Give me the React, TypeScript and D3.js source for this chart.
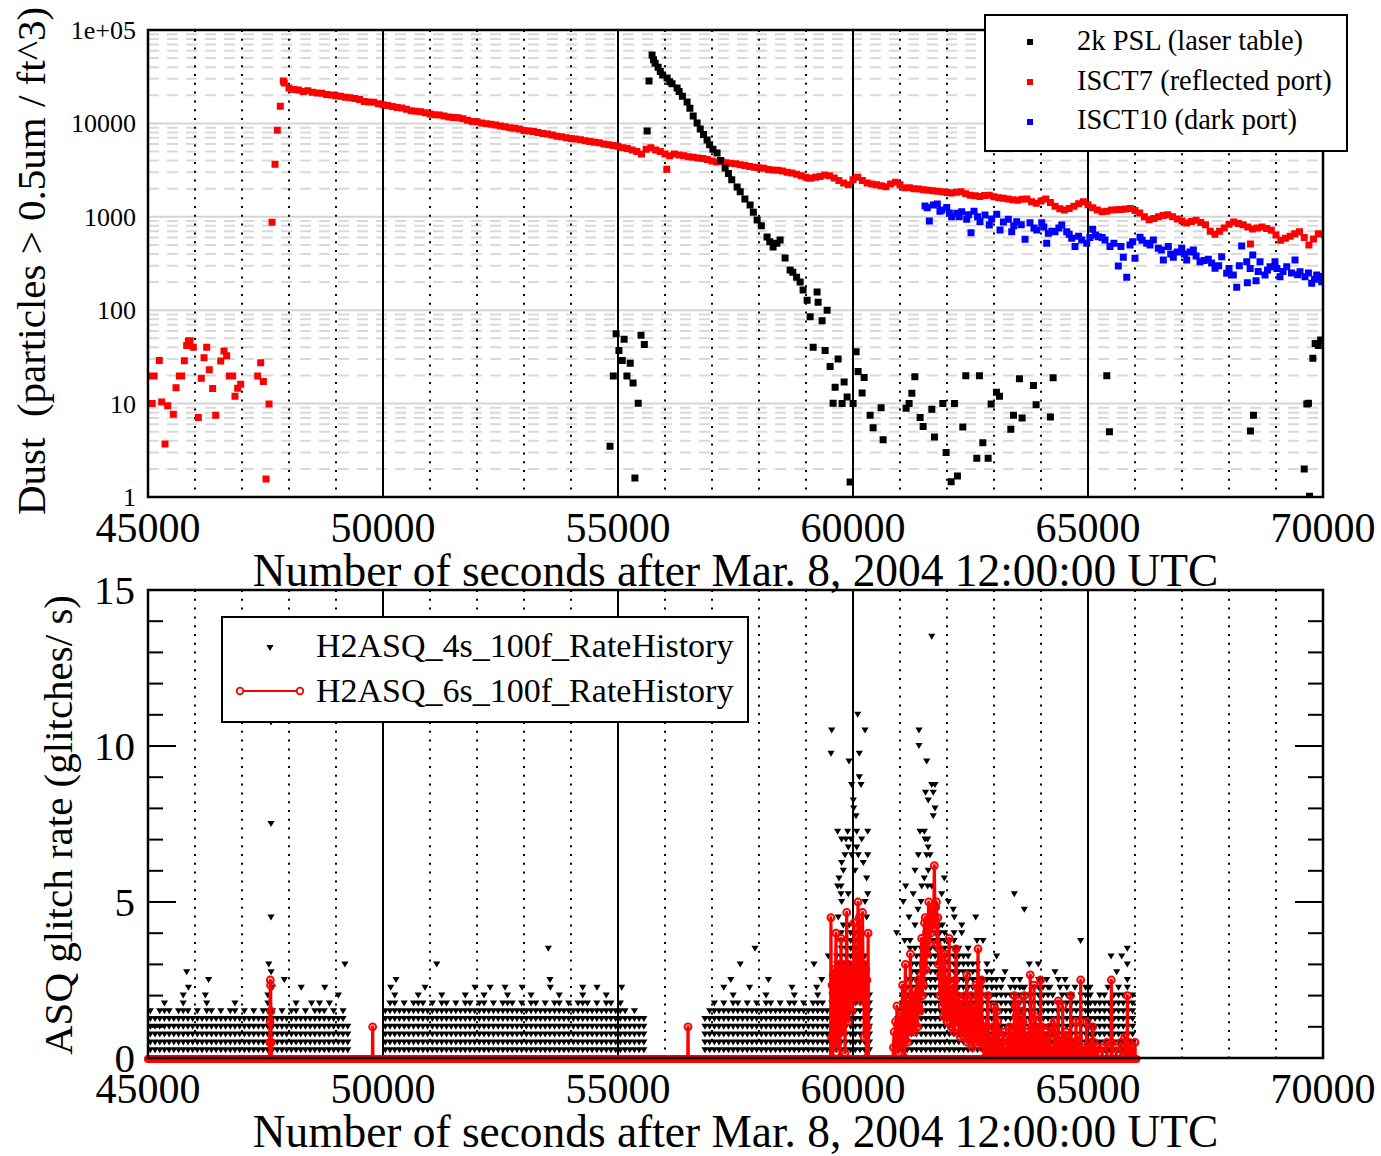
import React from "react";
import * as d3 from "d3";

// ---------------- data ----------------
const X_TICKS = [45000, 50000, 55000, 60000, 65000, 70000];
const X_TITLE = "Number of seconds after Mar. 8, 2004 12:00:00 UTC";
const TOP_Y_TICKS = [1, 10, 100, 1000, 10000, 100000];
const TOP_Y_LABELS = ["1", "10", "100", "1000", "10000", "1e+05"];
const TOP_Y_TITLE = "Dust  (particles > 0.5um / ft^3)";
const BOT_Y_TICKS = [0, 5, 10, 15];
const BOT_Y_TITLE = "ASQ glitch rate (glitches/ s)";
const TOP_LEGEND = ["2k PSL (laser table)", "ISCT7 (reflected port)", "ISCT10 (dark port)"];
const BOT_LEGEND = ["H2ASQ_4s_100f_RateHistory", "H2ASQ_6s_100f_RateHistory"];

// 2k PSL (laser table): [seconds, particles/ft^3]
const PSL: [number, number][] = [
  [54830, 3.5], [54900, 19.7], [54960, 56], [55020, 37], [55090, 29], [55130, 49], [55190, 19.7],
  [55260, 27], [55320, 16.6], [55360, 1.6], [55430, 10.1], [55490, 54], [55560, 43], [55620, 8300],
  [55660, 28400], [55725, 54000], [55755, 48000], [55790, 44000], [55853, 40000], [55900, 36000],
  [55950, 33000], [56045, 30600], [56100, 28000], [56150, 26500], [56257, 24000], [56300, 22000],
  [56370, 19500], [56470, 17000], [56530, 14500], [56600, 12000], [56683, 10100], [56750, 8700],
  [56820, 7600], [56896, 6640], [56950, 5900], [57020, 5300], [57108, 4820], [57180, 4000],
  [57279, 3330], [57350, 2900], [57420, 2500], [57534, 2080], [57600, 1850], [57700, 1550],
  [57811, 1340], [57880, 1120], [57960, 925], [58050, 800], [58172, 608], [58230, 540], [58300, 475],
  [58380, 520], [58449, 565], [58555, 362], [58662, 269], [58720, 255], [58800, 225], [58875, 200],
  [58938, 165], [59024, 128], [59088, 85], [59152, 40], [59236, 157], [59258, 122], [59343, 77],
  [59407, 37], [59450, 100], [59513, 25], [59577, 10.1], [59620, 15], [59683, 30], [59768, 10],
  [59811, 17], [59875, 11.8], [59939, 1.45], [60002, 10], [60066, 36], [60109, 22], [60194, 13],
  [60237, 19], [60364, 7.5], [60428, 5.5], [60598, 9], [60641, 4.1],
  [61130, 8.9], [61194, 10], [61252, 12.9], [61316, 19.4], [61428, 7.1], [61492, 5.7], [61677, 8.7],
  [61733, 4.4], [61911, 10], [61981, 3.0], [62088, 1.46], [62159, 10], [62222, 1.68], [62336, 5.6],
  [62400, 19.9], [62634, 2.6], [62690, 19.9], [62762, 3.8], [62875, 2.6], [62939, 9.9], [63052, 13.2],
  [63116, 12], [63358, 5.3], [63414, 7.5], [63541, 18.5], [63598, 7], [63839, 15.6], [63896, 9.7],
  [64200, 7.2], [64258, 18.9], [65400, 19.9], [65456, 5.0], [68456, 5.1], [68520, 7.5], [69600, 2.0],
  [69656, 9.9], [69690, 10.1], [69713, 1.02], [69784, 30.5], [69833, 44], [69900, 42], [69950, 48],
];

// ISCT7 (reflected port): early scattered samples [seconds, particles]
const ISCT7_SCATTER: [number, number][] = [
  [45050, 19.7], [45090, 10], [45130, 19.7], [45241, 29], [45291, 10.4], [45362, 3.7], [45419, 9.5],
  [45539, 7.7], [45596, 14.8], [45667, 19.7], [45717, 19.7], [45773, 28.8], [45823, 42], [45860, 47],
  [45894, 47], [45964, 40], [46071, 7.1], [46134, 18.7], [46192, 31], [46249, 40], [46304, 23],
  [46376, 14.5], [46441, 7.5], [46547, 28.6], [46617, 36.6], [46674, 32.6], [46730, 19.7],
  [46802, 19.7], [46851, 12], [46908, 14.6], [46972, 16.1], [47334, 19.7], [47398, 27.4],
  [47454, 17.2], [47511, 1.56], [47575, 9.9], [47639, 873], [47703, 3650], [47751, 8440],
  [47815, 15300], [47879, 28400], [56038, 3230], [68456, 510],
];
// ISCT7 regular samples after the door opening (every 100 s from 47900)
const ISCT7_START = 47900;
const ISCT7_STEP = 100;
const ISCT7_VALUES = [
  27000, 24000, 23000, 22800, 22000, 22300, 21500, 21200, 21000, 20400,
  20200, 19800, 19500, 19000, 18800, 18500, 18000, 17200, 17000, 16800,
  16200, 15800, 15500, 15200, 14800, 14600, 14200, 13700, 13500, 13300,
  13000, 12600, 12400, 12300, 12000, 11700, 11600, 11500, 11200, 10800,
  10500, 10400, 10100, 9900, 9800, 9600, 9400, 9200, 9000, 8900,
  8700, 8400, 8300, 8200, 8000, 7800, 7700, 7500, 7300, 7200,
  7000, 6900, 6800, 6700, 6500, 6400, 6300, 6200, 6000, 5900,
  5800, 5700, 5500, 5400, 5200, 5000, 4700, 5300, 5500, 5200,
  5000, 4700, 4500, 4700, 4600, 4500, 4400, 4350, 4250, 4200,
  4100, 3950, 3850, 3900, 3800, 3750, 3700, 3600, 3550, 3450,
  3400, 3350, 3300, 3200, 3170, 3150, 3100, 3000, 2950, 2850,
  2750, 2650, 2580, 2650, 2700, 2800, 2750, 2600, 2450, 2300,
  2200, 2500, 2650, 2450, 2300, 2250, 2200, 2150, 2100, 2250,
  2350, 2200, 2050, 2050, 2000, 1980, 1950, 1920, 1900, 1880,
  1850, 1820, 1800, 1830, 1850, 1760, 1700, 1680, 1650, 1690,
  1700, 1640, 1600, 1580, 1550, 1520, 1500, 1540, 1550, 1450,
  1400, 1480, 1550, 1420, 1300, 1220, 1180, 1230, 1300, 1380,
  1450, 1350, 1250, 1180, 1130, 1150, 1180, 1190, 1200, 1210,
  1230, 1170, 1100, 1000, 930, 960, 1000, 1030, 1050, 1000,
  950, 900, 860, 890, 920, 870, 820, 700, 650, 700,
  760, 830, 880, 850, 820, 780, 740, 760, 780, 750,
  720, 640, 560, 590, 620, 660, 690, 600, 500, 580,
  660, 650,
];

// ISCT10 (dark port)
const ISCT10: [number, number][] = [
  [61532, 1306], [61580, 1250], [61624, 900], [61709, 1340], [61794, 1370], [61850, 1150], [61887, 1180],
  [61994, 1260], [62050, 1100], [62100, 1000], [62207, 1090], [62260, 1000], [62313, 1135], [62419, 940],
  [62460, 1050], [62511, 676], [62575, 1150], [62650, 1000], [62702, 887], [62809, 1045], [62900, 815],
  [62950, 950], [63058, 1065], [63128, 722], [63200, 880], [63305, 940], [63377, 690], [63420, 800],
  [63483, 887], [63580, 820], [63660, 574], [63766, 865], [63850, 760], [63909, 722], [64015, 865],
  [64060, 780], [64121, 520], [64156, 666], [64230, 700], [64298, 690], [64380, 760], [64441, 815],
  [64547, 690], [64600, 650], [64654, 590], [64724, 480], [64800, 620], [64866, 565], [64973, 520],
  [65040, 600], [65100, 735], [65160, 640], [65219, 612], [65300, 600], [65362, 565], [65468, 480],
  [65550, 520], [65645, 297], [65700, 480], [65751, 368], [65824, 225], [65894, 500], [65950, 540],
  [66000, 359], [66107, 603], [66150, 560], [66249, 520], [66320, 500], [66390, 565], [66496, 460],
  [66560, 440], [66603, 345], [66709, 480], [66760, 400], [66815, 368], [66900, 420], [66994, 460],
  [67050, 400], [67100, 345], [67170, 420], [67241, 441], [67300, 380], [67383, 330], [67470, 340],
  [67560, 352], [67630, 320], [67703, 281], [67780, 300], [67845, 374], [67951, 248], [68000, 280],
  [68092, 238], [68164, 176], [68220, 300], [68270, 487], [68377, 330], [68390, 197], [68450, 280],
  [68505, 390], [68575, 207], [68620, 260], [68660, 330], [68766, 238], [68820, 270], [68873, 292],
  [68979, 330], [69020, 280], [69085, 228], [69150, 260], [69228, 292], [69330, 250], [69405, 345],
  [69460, 240], [69511, 258], [69617, 228], [69690, 250], [69760, 194], [69820, 215], [69866, 238],
  [69930, 230], [69973, 202],
];

// H2ASQ_4s: highest glitch count (per 4 s) reached in each 100 s bin, by stretch of data
const R4_BIN = 100;
const R4_A_START = 45000;
const R4_A = [6, 5, 6, 7, 6, 5, 6, 8, 6, 5, 6, 5, 7, 6, 5, 6, 5, 6, 7, 5, 6, 5, 6, 5, 6, 8, 6, 5, 6, 5, 6, 7, 5, 6, 5, 6, 7, 6, 5, 6, 5, 6, 4];
const R4_B_START = 50000;
const R4_B = [6, 7, 8, 6, 7, 6, 7, 8, 7, 6, 7, 6, 8, 7, 6, 7, 6, 8, 7, 6, 7, 8, 6, 7, 6, 7, 8, 7, 6, 7, 6, 8, 7, 6, 7, 6, 7, 8, 6, 7, 6, 7, 8, 7, 6, 7, 6, 8, 7, 6, 7, 6, 5, 6, 5, 5];
const R4_C_START = 56800;
const R4_C = [5, 6, 7, 6, 7, 6, 8, 7, 6, 7, 6, 7, 6, 8, 7, 6, 7, 6, 7, 8, 6, 7, 6, 7, 8, 7, 6];
const R4_D_START = 59500;
const R4_D = [9, 13, 16, 15, 16, 16, 15, 13, 8];
const R4_F_START = 60900;
const R4_F = [6, 8, 10, 12, 13, 14, 16, 18, 18, 17, 16, 15, 16, 14, 13, 14, 12, 12, 10, 12, 11, 10, 9, 8, 9, 8, 10, 9, 8, 9, 10, 8, 9, 8, 7, 8, 9, 8, 7, 8, 9, 8, 7, 8, 8, 7, 8, 9, 8, 7, 8];
// H2ASQ_4s: isolated high samples [seconds, glitches/s]
const R4_HIGH: [number, number][] = [
  [45823, 2.75], [45860, 2.25], [46290, 2.5], [46220, 2.0], [47570, 3.0], [47620, 2.75], [47650, 2.25],
  [47900, 2.5], [48260, 2.25], [48760, 2.25], [49190, 3.0], [47617, 4.5], [47617, 7.5], [47617, 10.75],
  [48650, 1.75], [48860, 1.75], [48480, 1.75], [49050, 2.0],
  [50164, 2.25], [50277, 2.5], [50894, 2.25], [51143, 3.0], [51957, 2.25], [52596, 2.25], [53517, 3.5],
  [53553, 2.5], [53560, 2.25], [54249, 2.25], [54553, 2.25], [55079, 2.25], [52280, 2.25], [52960, 2.25],
  [57250, 2.25], [57400, 2.5], [57915, 3.5], [57600, 3.0], [57800, 2.25], [58200, 2.5], [58700, 2.25],
  [59170, 3.0], [59334, 2.5], [59227, 2.25],
  [60100, 11.0], [59547, 10.5], [60256, 10.5], [59532, 9.75], [60134, 9.75], [59915, 9.5], [60134, 9.0],
  [59972, 8.75], [60171, 8.75], [60006, 8.25], [60015, 8.0], [60064, 7.75], [59673, 7.25], [59886, 7.25],
  [60079, 7.25], [60313, 7.25], [59758, 7.0], [59957, 7.0], [60185, 7.0], [59850, 7.0], [59900, 6.75],
  [60079, 6.75], [59830, 6.5], [59972, 6.5], [60113, 6.5], [60313, 6.5], [59758, 6.25], [60219, 6.25],
  [59794, 6.0], [60043, 6.0], [59702, 5.75], [60290, 5.75], [59673, 5.5], [59745, 5.5], [59745, 5.25],
  [59900, 5.25], [60313, 5.25], [59758, 5.0], [60256, 5.0], [59687, 4.5], [60290, 4.5], [59794, 4.25],
  [59922, 4.25], [59475, 3.25],
  [61675, 13.5], [61404, 10.5], [61404, 10.0], [61568, 9.5], [61675, 8.75], [61745, 8.75], [61543, 8.5],
  [61707, 8.5], [61600, 8.25], [61745, 8.0], [61707, 7.75], [61426, 7.25], [61517, 7.25], [61532, 7.0],
  [61589, 7.0], [61600, 6.75], [61390, 6.5], [61568, 6.5], [61638, 6.5], [61319, 6.0], [61600, 6.0],
  [61943, 5.75], [61517, 5.75], [61121, 5.5], [61462, 5.5], [61589, 5.5], [61675, 5.5], [61281, 5.25],
  [61887, 5.25], [61070, 5.0], [61447, 5.0], [62028, 5.0], [61383, 4.75], [62134, 4.75], [61192, 4.5],
  [62156, 4.5], [62611, 4.5], [61319, 4.25], [61900, 4.25], [62313, 4.25], [60930, 4.0], [62313, 4.0],
  [61100, 3.75], [61213, 3.75], [62638, 3.75], [62766, 3.75], [61213, 3.5], [61319, 3.5],
  [63432, 5.25], [63645, 4.75], [64843, 3.75], [65837, 3.5], [65490, 3.25], [65717, 3.25], [65837, 3.0],
  [63055, 3.25], [63752, 3.0], [63943, 3.0], [63234, 2.75], [64298, 2.75], [65611, 2.75], [63184, 2.5],
  [63410, 2.5], [64015, 2.5], [64121, 2.5], [64368, 2.5], [64511, 2.5], [65837, 2.5], [62958, 2.25],
  [63447, 2.25], [63617, 2.25], [64042, 2.25], [64191, 2.25], [64404, 2.25], [64723, 2.25], [65042, 2.25],
  [65425, 2.25], [65837, 2.25],
];

// H2ASQ_6s: glitch counts per 6 s; zero except the samples listed here
const R6_END = 66030;
const R6_SPIKES: [number, number][] = [
  [47590, 3], [47596, 7], [47602, 15], [47608, 14], [47614, 9], [47620, 3],
  [49780, 6], [56490, 6],
  [62950, 4], [62980, 6], [63006, 10], [63030, 4], [63057, 9], [63080, 7], [63100, 5], [63130, 3],
  [63164, 3], [63190, 5], [63220, 1], [63250, 2], [63290, 4], [63330, 6], [63370, 2], [63400, 5],
  [63432, 12], [63447, 10], [63470, 8], [63490, 3], [63518, 11], [63550, 6], [63580, 4], [63603, 9],
  [63620, 7], [63645, 12], [63670, 5], [63700, 4], [63730, 3], [63772, 16], [63800, 6], [63830, 2],
  [63851, 14], [63880, 8], [63920, 4], [63960, 6], [63993, 15], [64015, 6], [64040, 3], [64085, 5],
  [64120, 3], [64150, 4], [64191, 6], [64230, 2], [64283, 7], [64320, 5], [64368, 11], [64400, 2],
  [64440, 4], [64462, 10], [64500, 2], [64532, 5], [64580, 4], [64632, 12], [64660, 3], [64700, 3],
  [64745, 7], [64800, 4], [64845, 15], [64900, 2], [64972, 7], [65000, 2], [65050, 3], [65100, 6],
  [65134, 3], [65200, 2], [65300, 2], [65400, 3], [65496, 15], [65504, 3], [65600, 2], [65700, 3],
  [65780, 4], [65837, 12], [65880, 3], [65930, 2], [66000, 3],
];
const R6_BURST1_START = 59530;
const R6_BURST1_STEP = 12;
const R6_BURST1 = [
  27, 4, 14, 0, 16, 8, 17, 2, 13, 24, 10, 15, 3, 17, 11, 18, 0, 14, 23, 9,
  16, 5, 18, 12, 15, 1, 17, 13, 28, 12, 16, 7, 18, 10, 15, 13, 17, 9, 14, 12,
  16, 26, 13, 17, 11, 15, 18, 12, 30, 14, 27, 12, 18, 15, 17, 11, 28, 16, 18, 4,
  16, 13, 17, 0, 15, 6, 24,
];
const R6_BURST2_START = 60860;
const R6_BURST2_STEP = 15;
const R6_BURST2 = [
  2, 5, 0, 7, 3, 10, 6, 1, 7, 4, 8, 2, 6, 14, 4, 8, 0, 18, 7, 9,
  3, 8, 11, 5, 20, 9, 6, 12, 8, 10, 5, 13, 9, 11, 6, 15, 10, 14, 9, 16,
  23, 12, 18, 14, 26, 27, 17, 24, 20, 25, 30, 22, 27, 24, 29, 26, 28, 25, 37, 27,
  29, 30, 22, 27, 18, 21, 12, 16, 20, 10, 14, 8, 13, 20, 9, 12, 7, 15, 10, 23,
  8, 13, 6, 11, 9, 14, 5, 10, 15, 21, 7, 12, 6, 9, 11, 4, 8, 10, 5, 9,
  7, 4, 12, 6, 16, 3, 8, 5, 10, 4, 12, 6, 2, 9, 5, 7, 3, 14, 6, 4,
  21, 5, 8, 3, 6, 15, 2, 7, 4, 0, 5, 3, 0, 6, 12, 2, 0,
];

// ---------------- layout ----------------
const W = 1381;
const H = 1156;
const PX0 = 148;
const PX1 = 1323;
const T_Y0 = 30;
const T_Y1 = 497;
const B_Y0 = 590;
const B_Y1 = 1058;
const FONT = "'Liberation Serif', 'Times New Roman', serif";

const x = d3.scaleLinear().domain([45000, 70000]).range([PX0, PX1]);
const yT = d3.scaleLog().domain([1, 1e5]).range([T_Y1, T_Y0]);
const yB = d3.scaleLinear().domain([0, 15]).range([B_Y1, B_Y0]);

const squarePath = (pts: [number, number][], s = 7) =>
  pts.map(([t, v]) => `M${x(t) - s / 2},${yT(v) - s / 2}h${s}v${s}h${-s}z`).join("");

const triPath = (pts: [number, number][]) =>
  pts.map(([t, r]) => `M${x(t) - 3.6},${yB(r) - 3}h7.2l-3.6,6z`).join("");

function VGrid({ y0, y1 }: { y0: number; y1: number }) {
  const minor = d3.range(46000, 70000, 1000).filter((v) => v % 5000 !== 0);
  const major = [50000, 55000, 60000, 65000];
  return (
    <g>
      {minor.map((v) => (
        <line key={"m" + v} x1={x(v)} x2={x(v)} y1={y0} y2={y1} stroke="#000" strokeWidth={2} strokeDasharray="2 6.8" />
      ))}
      {major.map((v) => (
        <line key={"M" + v} x1={x(v)} x2={x(v)} y1={y0} y2={y1} stroke="#000" strokeWidth={2} />
      ))}
    </g>
  );
}

export default function App() {
  const isct7Trend: [number, number][] = ISCT7_VALUES.map((v, i) => [ISCT7_START + i * ISCT7_STEP, v]);

  // minor horizontal grid values (2..9 x decade)
  const minorY: number[] = [];
  for (const d of [1, 10, 100, 1000, 10000]) for (let m = 2; m <= 9; m++) minorY.push(d * m);

  // 4s series points
  const r4: [number, number][] = [];
  const segs: [number, number[]][] = [
    [R4_A_START, R4_A], [R4_B_START, R4_B], [R4_C_START, R4_C], [R4_D_START, R4_D], [R4_F_START, R4_F],
  ];
  for (const [start, counts] of segs) {
    counts.forEach((c, i) => {
      for (let k = 1; k <= c; k++) r4.push([start + i * R4_BIN + R4_BIN / 2, k / 4]);
    });
  }
  for (const p of R4_HIGH) r4.push(p);

  // 6s series
  const r6: [number, number][] = [
    ...R6_SPIKES,
    ...R6_BURST1.map((c, i) => [R6_BURST1_START + i * R6_BURST1_STEP, c] as [number, number]),
    ...R6_BURST2.map((c, i) => [R6_BURST2_START + i * R6_BURST2_STEP, c] as [number, number]),
  ].sort((a, b) => a[0] - b[0]);
  const seq: [number, number][] = [[45000, 0]];
  let prev: [number, number] = seq[0];
  for (const p of r6) {
    if (p[0] - prev[0] > 20) {
      if (prev[1] !== 0) seq.push([prev[0] + 6, 0]);
      seq.push([p[0] - 6, 0]);
    }
    seq.push(p);
    prev = p;
  }
  seq.push([prev[0] + 6, 0]);
  seq.push([R6_END, 0]);
  const r6Line = d3
    .line<[number, number]>()
    .x((d) => x(d[0]))
    .y((d) => yB(d[1] / 6))(seq) as string;

  const minorBotTicks = d3.range(1, 15).filter((v) => v % 5 !== 0);

  return (
    <svg width={W} height={H} style={{ position: "absolute", left: 0, top: 0, background: "#fff" }} fontFamily={FONT}>
      <rect x={0} y={0} width={W} height={H} fill="#fff" />
      <defs>
        <clipPath id="clipTop">
          <rect x={PX0} y={T_Y0} width={PX1 - PX0} height={T_Y1 - T_Y0} />
        </clipPath>
        <clipPath id="clipBot">
          <rect x={PX0} y={B_Y0} width={PX1 - PX0} height={B_Y1 - B_Y0} />
        </clipPath>
      </defs>

      {/* ================= TOP PANEL ================= */}
      <g>
        {minorY.map((v) => (
          <line key={"hy" + v} x1={PX0} x2={PX1} y1={yT(v)} y2={yT(v)} stroke="#d9d9d9" strokeWidth={2} strokeDasharray="11 8" />
        ))}
        {TOP_Y_TICKS.slice(1, 5).map((v) => (
          <line key={"hd" + v} x1={PX0} x2={PX1} y1={yT(v)} y2={yT(v)} stroke="#d5d5d5" strokeWidth={2} />
        ))}
        <VGrid y0={T_Y0} y1={T_Y1} />
        <g clipPath="url(#clipTop)">
          <path d={squarePath(ISCT7_SCATTER)} fill="#f00" />
          <path d={squarePath(isct7Trend)} fill="#f00" />
          <path d={squarePath(ISCT10)} fill="#00f" />
          <path d={squarePath(PSL)} fill="#000" />
        </g>
        <rect x={PX0} y={T_Y0} width={PX1 - PX0} height={T_Y1 - T_Y0} fill="none" stroke="#000" strokeWidth={2.5} />
        {TOP_Y_TICKS.map((v, i) => (
          <text key={"tyl" + v} x={136} y={yT(v) + 9} fontSize={26} textAnchor="end">
            {TOP_Y_LABELS[i]}
          </text>
        ))}
        {X_TICKS.map((v) => (
          <text key={"txl" + v} x={x(v)} y={542} fontSize={42} textAnchor="middle">
            {v}
          </text>
        ))}
        <text x={(PX0 + PX1) / 2} y={586} fontSize={45.4} textAnchor="middle">
          {X_TITLE}
        </text>
        <text transform="translate(45,261) rotate(-90)" fontSize={41} textAnchor="middle" style={{ whiteSpace: "pre" }}>
          {TOP_Y_TITLE}
        </text>
        {/* legend */}
        <rect x={985} y={15} width={362} height={136} fill="#fff" stroke="#000" strokeWidth={2} />
        {TOP_LEGEND.map((s, i) => (
          <g key={"tl" + i}>
            <rect x={1027} y={39 + i * 40} width={6} height={6} fill={["#000", "#f00", "#00f"][i]} />
            <text x={1077} y={50 + i * 39.5} fontSize={28.5}>
              {s}
            </text>
          </g>
        ))}
      </g>

      {/* ================= BOTTOM PANEL ================= */}
      <g>
        <VGrid y0={B_Y0} y1={B_Y1} />
        <g clipPath="url(#clipBot)">
          <path d={triPath(r4)} fill="#000" />
        </g>
        <line x1={x(45000)} x2={x(R6_END)} y1={yB(0) + 1} y2={yB(0) + 1} stroke="#f00" strokeWidth={8} strokeLinecap="round" />
        <path d={r6Line} fill="none" stroke="#f00" strokeWidth={3.2} strokeLinejoin="round" />
        {r6.map(([t, c], i) => (
          <circle key={"c" + i} cx={x(t)} cy={yB(c / 6)} r={3.4} fill="none" stroke="#f00" strokeWidth={2} />
        ))}
        <rect x={PX0} y={B_Y0} width={PX1 - PX0} height={B_Y1 - B_Y0} fill="none" stroke="#000" strokeWidth={2.5} />
        {minorBotTicks.map((v) => (
          <g key={"mt" + v}>
            <line x1={PX0} x2={PX0 + 15} y1={yB(v)} y2={yB(v)} stroke="#000" strokeWidth={2} />
            <line x1={PX1 - 15} x2={PX1} y1={yB(v)} y2={yB(v)} stroke="#000" strokeWidth={2} />
          </g>
        ))}
        {[5, 10].map((v) => (
          <g key={"Mt" + v}>
            <line x1={PX0} x2={PX0 + 28} y1={yB(v)} y2={yB(v)} stroke="#000" strokeWidth={2} />
            <line x1={PX1 - 28} x2={PX1} y1={yB(v)} y2={yB(v)} stroke="#000" strokeWidth={2} />
          </g>
        ))}
        {BOT_Y_TICKS.map((v) => (
          <text key={"byl" + v} x={135} y={yB(v) + 14} fontSize={41} textAnchor="end">
            {v}
          </text>
        ))}
        {X_TICKS.map((v) => (
          <text key={"bxl" + v} x={x(v)} y={1103} fontSize={42} textAnchor="middle">
            {v}
          </text>
        ))}
        <text x={(PX0 + PX1) / 2} y={1147} fontSize={45.4} textAnchor="middle">
          {X_TITLE}
        </text>
        <text transform="translate(72,825) rotate(-90)" fontSize={41} textAnchor="middle">
          {BOT_Y_TITLE}
        </text>
        {/* legend */}
        <rect x={222} y={617} width={526} height={105} fill="#fff" stroke="#000" strokeWidth={2} />
        <path d="M266.4,645h7.2l-3.6,6z" fill="#000" />
        <text x={316} y={657} fontSize={34}>
          {BOT_LEGEND[0]}
        </text>
        <line x1={240} x2={300} y1={691} y2={691} stroke="#f00" strokeWidth={2.2} />
        <circle cx={240} cy={691} r={3.3} fill="#fff" stroke="#f00" strokeWidth={1.8} />
        <circle cx={300} cy={691} r={3.3} fill="#fff" stroke="#f00" strokeWidth={1.8} />
        <text x={316} y={702} fontSize={34}>
          {BOT_LEGEND[1]}
        </text>
      </g>
    </svg>
  );
}
